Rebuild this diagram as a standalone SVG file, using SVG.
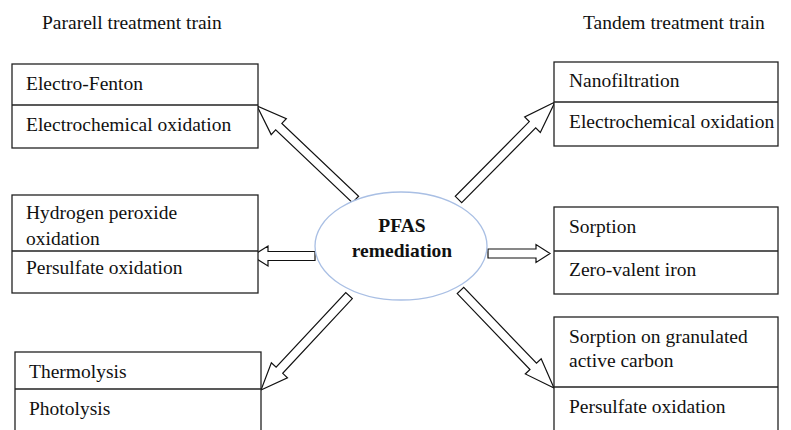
<svg xmlns="http://www.w3.org/2000/svg" width="791" height="430" viewBox="0 0 791 430">
<style>
.box{fill:#fff;stroke:#222;stroke-width:1.3}
.div{stroke:#222;stroke-width:1.3}
.t{font-family:"Liberation Serif","Times New Roman",serif;font-size:19.5px;fill:#111}
.h{font-family:"Liberation Serif","Times New Roman",serif;font-size:19.5px;fill:#111}
.b{font-family:"Liberation Serif","Times New Roman",serif;font-size:19.5px;font-weight:bold;fill:#111}
.arr{fill:#fff;stroke:#111;stroke-width:1.2;stroke-linejoin:miter}
</style>
<rect width="791" height="430" fill="#fff"/>
<text class="h" x="42" y="29">Pararell treatment train</text>
<text class="h" x="583" y="29">Tandem treatment train</text>

<g id="connectors">
<g transform="translate(257,106) rotate(-136.5)"><polygon class="arr" points="0,0 -30,-11 -30,-4.5 -135.8,-4.5 -135.8,4.5 -30,4.5 -30,11"/></g>
<g transform="translate(555,102) rotate(-45.3)"><polygon class="arr" points="0,0 -32,-11 -32,-4.5 -137.2,-4.5 -137.2,4.5 -32,4.5 -32,11"/></g>
<g transform="translate(261,390) rotate(133)"><polygon class="arr" points="0,0 -27,-11 -27,-4.5 -129.1,-4.5 -129.1,4.5 -27,4.5 -27,11"/></g>
<g transform="translate(554,388) rotate(46.2)"><polygon class="arr" points="0,0 -30,-11 -30,-4.5 -135.1,-4.5 -135.1,4.5 -30,4.5 -30,11"/></g>
<g transform="translate(252,256) rotate(180)"><polygon class="arr" points="0,0 -16,-10 -16,-4.5 -63,-4.5 -63,4.5 -16,4.5 -16,10"/></g>
<g transform="translate(550,253.5)"><polygon class="arr" points="0,0 -14,-9 -14,-4.5 -62,-4.5 -62,4.5 -14,4.5 -14,9"/></g>
</g>

<g id="center">
<ellipse cx="401" cy="246" rx="86" ry="54" fill="#fff" stroke="#a9bfe4" stroke-width="1.3"/>
<text class="b" x="402" y="232" text-anchor="middle">PFAS</text>
<text class="b" x="402" y="257" text-anchor="middle">remediation</text>
</g>

<g id="left1">
<rect class="box" x="12" y="64" width="246" height="84"/>
<line class="div" x1="12" y1="105" x2="258" y2="105"/>
<text class="t" x="26" y="90">Electro-Fenton</text>
<text class="t" x="26" y="131">Electrochemical oxidation</text>
</g>
<g id="left2">
<rect class="box" x="12" y="195" width="246" height="98"/>
<line class="div" x1="12" y1="251" x2="258" y2="251"/>
<text class="t" x="26" y="219">Hydrogen peroxide</text>
<text class="t" x="26" y="245">oxidation</text>
<text class="t" x="26" y="274">Persulfate oxidation</text>
</g>
<g id="left3">
<rect class="box" x="15" y="352" width="246" height="90"/>
<line class="div" x1="15" y1="389" x2="261" y2="389"/>
<text class="t" x="29" y="378">Thermolysis</text>
<text class="t" x="29" y="415">Photolysis</text>
</g>
<g id="right1">
<rect class="box" x="554" y="62" width="224" height="84"/>
<line class="div" x1="554" y1="102" x2="778" y2="102"/>
<text class="t" x="569" y="87">Nanofiltration</text>
<text class="t" x="569" y="128">Electrochemical oxidation</text>
</g>
<g id="right2">
<rect class="box" x="554" y="207" width="224" height="87"/>
<line class="div" x1="554" y1="251" x2="778" y2="251"/>
<text class="t" x="569" y="233">Sorption</text>
<text class="t" x="569" y="276">Zero-valent iron</text>
</g>
<g id="right3">
<rect class="box" x="554" y="317" width="224" height="125"/>
<line class="div" x1="554" y1="387" x2="778" y2="387"/>
<text class="t" x="569" y="343">Sorption on granulated</text>
<text class="t" x="569" y="367">active carbon</text>
<text class="t" x="569" y="413">Persulfate oxidation</text>
</g>
</svg>
